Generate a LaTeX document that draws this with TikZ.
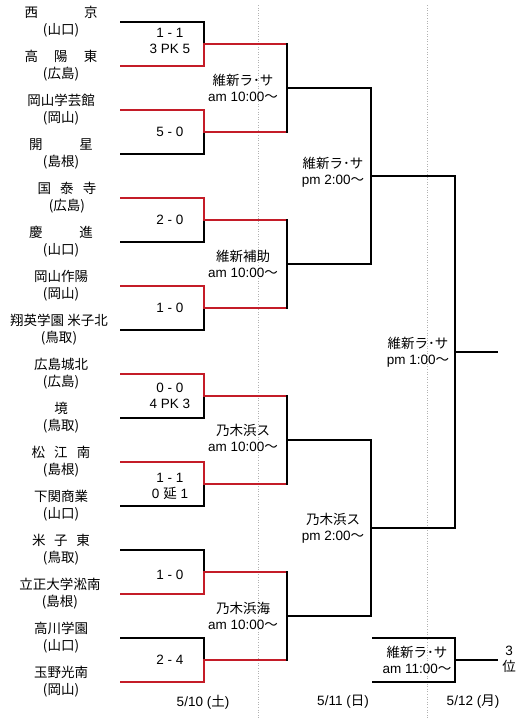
\documentclass[tikz,border=0pt]{standalone}
\usepackage{fontspec}
\setmainfont{Noto Sans CJK JP}
\newfontfamily\latin{Liberation Sans}
\definecolor{winred}{RGB}{196,28,40}
\begin{document}
\begin{tikzpicture}[x=1pt,y=-1pt,line width=1.8pt,
  every node/.style={inner sep=0pt,align=center,font=\fontsize{13.5}{17}\selectfont},
  venue/.style={font=\fontsize{13.5}{16}\selectfont},
  score/.style={font=\latin\fontsize{13.5}{16}\selectfont}]
\useasboundingbox (0,0) rectangle (528,720);
\draw[gray!60,dotted,line width=0.6pt] (258,5) -- (258,720) (427,5) -- (427,720);
% first round: pair k, w=0 top wins, w=1 bottom wins
\foreach \k/\w in {0/1,1/0,2/0,3/0,4/0,5/0,6/1,7/1}{
  \pgfmathsetmacro{\yt}{22+88*\k}
  \pgfmathsetmacro{\ym}{\yt+22}
  \pgfmathsetmacro{\yw}{\yt+44*\w}
  \pgfmathsetmacro{\yl}{\yt+44*(1-\w)}
  \draw (120,\yl) -- (204,\yl) -- (204,\ym);
  \draw[winred] (120,\yw) -- (204,\yw) -- (204,\ym) -- (287,\ym);
}
\foreach \j in {0,...,3}{
  \pgfmathsetmacro{\ya}{44+176*\j}
  \draw[line cap=rect] (287,\ya) -- (287,\ya+88);
  \draw (287,\ya+44) -- (371,\ya+44);
}
\foreach \j in {0,1}{
  \pgfmathsetmacro{\ya}{88+352*\j}
  \draw[line cap=rect] (371,\ya) -- (371,\ya+176);
  \draw (371,\ya+88) -- (455,\ya+88);
}
\draw[line cap=rect] (455,176) -- (455,528);
\draw (455,352) -- (498,352);
% third place
\draw (372,638) -- (455,638) -- (455,682) -- (372,682);
\draw (455,660) -- (498,660);
% teams
\node (saikyo) at (61,22) {\makebox[73pt]{西\hfill 京}\\(山口)};
\node (koyohigashi) at (61,66) {\makebox[73pt]{高\hfill 陽\hfill 東}\\(広島)};
\node (gakugeikan) at (61,110) {岡山学芸館\\(岡山)};
\node (kaisei) at (61,154) {\makebox[64pt]{開\hfill 星}\\(島根)};
\node (taiji) at (67,198) {\makebox[59pt]{国\hfill 泰\hfill 寺}\\(広島)};
\node (keishin) at (61,242) {\makebox[64pt]{慶\hfill 進}\\(山口)};
\node (sakuyo) at (61,286) {岡山作陽\\(岡山)};
\node (yonagokita) at (59,330) {翔英学園 米子北\\(鳥取)};
\node (johoku) at (61,374) {広島城北\\(広島)};
\node (sakai) at (61,418) {境\\(鳥取)};
\node (matsueminami) at (61,462) {\makebox[59pt]{松\hfill 江\hfill 南}\\(島根)};
\node (shimoshou) at (61,506) {下関商業\\(山口)};
\node (yonagohigashi) at (61,550) {\makebox[58pt]{米\hfill 子\hfill 東}\\(鳥取)};
\node (shonan) at (60,594) {立正大学淞南\\(島根)};
\node (takagawa) at (61,638) {高川学園\\(山口)};
\node (tamano) at (61,682) {玉野光南\\(岡山)};
% scores
\node[score] (score1) at (170,41) {1 - 1\\3 PK 5};
\node[score] (score2) at (170,132) {5 - 0};
\node[score] (score3) at (170,220) {2 - 0};
\node[score] (score4) at (170,308) {1 - 0};
\node[score] (score5) at (170,396) {0 - 0\\4 PK 3};
\node[score] (score6) at (170,486) {1 - 1\\0 {\rmfamily 延} 1};
\node[score] (score7) at (170,575) {1 - 0};
\node[score] (score8) at (170,660) {2 - 4};
% venues
\node[venue] (ven1) at (243,88) {維新ラ･サ\\{\latin am 10:00}〜};
\node[venue] (ven2) at (243,264) {維新補助\\{\latin am 10:00}〜};
\node[venue] (ven3) at (243,438) {乃木浜ス\\{\latin am 10:00}〜};
\node[venue] (ven4) at (243,616) {乃木浜海\\{\latin am 10:00}〜};
\node[venue] (ven5) at (333,172) {維新ラ･サ\\{\latin pm 2:00}〜};
\node[venue] (ven6) at (333,528) {乃木浜ス\\{\latin pm 2:00}〜};
\node[venue] (ven7) at (418,352) {維新ラ･サ\\{\latin pm 1:00}〜};
\node[venue] (ven8) at (417,660) {維新ラ･サ\\{\latin am 11:00}〜};
\node[venue] (third) at (509,659) {{\latin 3}\\位};
% dates
\node (day1) at (203,702) {{\latin 5/10 (}土{\latin )}};
\node (day2) at (343,702) {{\latin 5/11 (}日{\latin )}};
\node (day3) at (473,702) {{\latin 5/12 (}月{\latin )}};
\end{tikzpicture}
\end{document}
